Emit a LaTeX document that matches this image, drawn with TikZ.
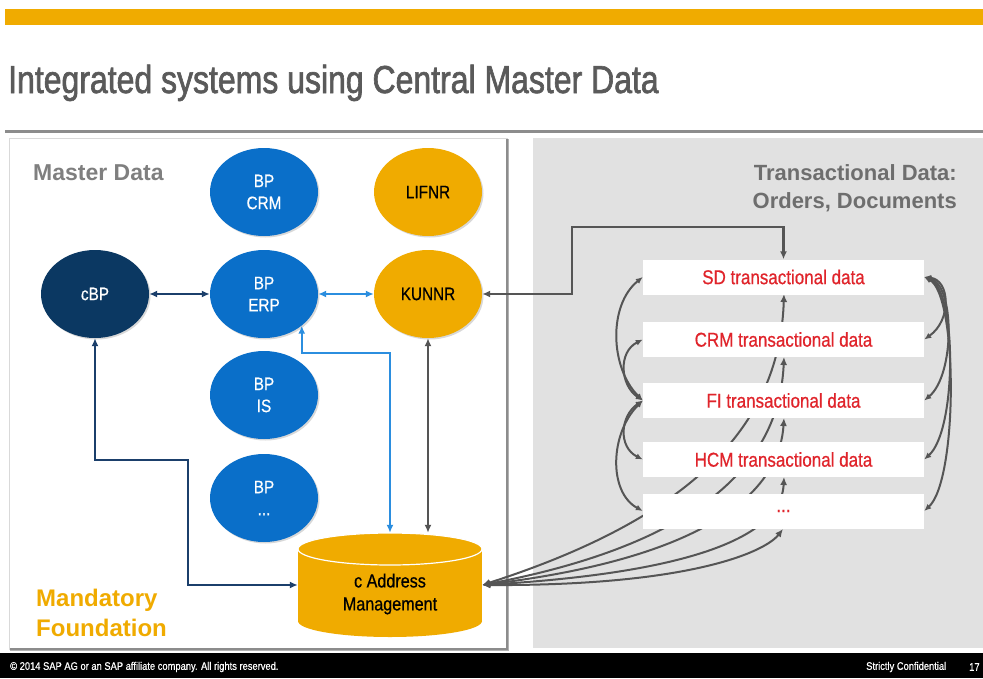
\documentclass[tikz,border=0pt]{standalone}
\usepackage{fontspec}
\setmainfont{Liberation Sans}
\newfontfamily\narrowfont[FakeStretch=0.85,FakeBold=0.6]{Liberation Sans}
\newfontfamily\titlefont[FakeStretch=0.82,FakeBold=1.6]{Liberation Sans}
\usetikzlibrary{arrows.meta,shapes.geometric,shadows}
\definecolor{sapgold}{HTML}{F0AB00}
\definecolor{bpblue}{HTML}{0A6FC9}
\definecolor{cbpnavy}{HTML}{0B3862}
\definecolor{navyline}{HTML}{1B3F6B}
\definecolor{lightblue}{HTML}{2B8EDF}
\definecolor{darkline}{HTML}{555555}
\definecolor{panelgray}{HTML}{E1E1E1}
\definecolor{tdred}{HTML}{E0242B}
\definecolor{titlegray}{HTML}{5A5A5A}
\definecolor{labelgray}{HTML}{7F7F7F}
\begin{document}
\begin{tikzpicture}[x=1pt,y=-1pt,
  bubble/.style={ellipse, minimum width=108pt, minimum height=88pt, inner sep=0pt, align=center,
    font=\narrowfont\fontsize{18}{22}\selectfont,
    drop shadow={shadow xshift=1.5pt, shadow yshift=-1.5pt, opacity=0.3}},
  tbox/.style={rectangle, fill=white, minimum width=281pt, minimum height=35pt, inner sep=0pt,
    text=tdred, font=\narrowfont\fontsize{20}{24}\selectfont},
  conn/.style={line width=2.4pt, >={Latex[length=8pt,width=7pt]}},
  navyconn/.style={conn, draw=navyline},
  blueconn/.style={conn, draw=lightblue},
  grayconn/.style={conn, draw=darkline},
  hubconn/.style={line width=2pt, draw=darkline, >={Latex[length=7pt,width=6pt]}},
  fanconn/.style={line width=2pt, draw=darkline, >={Latex[length=8pt,width=7pt]}},
  paneltitle/.style={inner sep=0pt, font=\bfseries\fontsize{22}{26}\selectfont, text=black!57}
]
\useasboundingbox (0,0) rectangle (983,678);
\fill[white] (0,0) rectangle (983,678);

% header
\fill[sapgold] (5,9) rectangle (983,25);
\node[anchor=base west, inner sep=0pt, font=\titlefont\fontsize{39}{39}\selectfont, text=titlegray] (title) at (8,93) {Integrated systems using Central Master Data};
\fill[black!45] (5,130) rectangle (983,133);

% panels
\fill[black!30] (10,139) rectangle (509,651);
\fill[white] (9,138) rectangle (507,649);
\draw[black!15, line width=0.8pt] (9,138) rectangle (507,649);
\draw[black!45, line width=1.4pt] (507,139) -- (507,649) -- (10,649);
\fill[panelgray] (533,138) rectangle (983,648);

% footer
\fill[black] (0,653) rectangle (983,678);
\node[anchor=west, inner sep=0pt, text=white, font=\narrowfont\fontsize{11}{12}\selectfont] (copy) at (10,667) {© 2014 SAP AG or an SAP affiliate company. All rights reserved.};
\node[anchor=west, inner sep=0pt, text=white, font=\narrowfont\fontsize{11}{12}\selectfont] (conf) at (866,667) {Strictly Confidential};
\node[anchor=west, inner sep=0pt, text=white, font=\narrowfont\fontsize{11}{12}\selectfont] (pageno) at (969,667) {17};

% panel titles
\node[anchor=base west, inner sep=0pt, font=\bfseries\fontsize{23}{26}\selectfont, text=labelgray] (md) at (33,180) {Master Data};
\node[anchor=base east, paneltitle] (td1) at (957,180) {Transactional Data:};
\node[anchor=base east, paneltitle] (td2) at (957,208) {Orders, Documents};
\node[anchor=base west, inner sep=0pt, font=\bfseries\fontsize{24}{26}\selectfont, text=sapgold] (mf1) at (36,606) {Mandatory};
\node[anchor=base west, inner sep=0pt, font=\bfseries\fontsize{24}{26}\selectfont, text=sapgold] (mf2) at (36,636) {Foundation};

% master data bubbles
\node[bubble, fill=bpblue, text=white] (crm) at (264,192) {BP\\CRM};
\node[bubble, fill=sapgold, text=black] (lifnr) at (428,192) {LIFNR};
\node[bubble, fill=cbpnavy, text=white] (cbp) at (95,294) {cBP};
\node[bubble, fill=bpblue, text=white] (erp) at (264,294) {BP\\ERP};
\node[bubble, fill=sapgold, text=black] (kunnr) at (428,294) {KUNNR};
\node[bubble, fill=bpblue, text=white] (is) at (264,395) {BP\\IS};
\node[bubble, fill=bpblue, text=white] (etc) at (264,498) {BP\\...};

% cylinder
\fill[sapgold] (298,549) rectangle (482,621);
\fill[sapgold] (390,621) ellipse[x radius=92pt, y radius=16pt];
\fill[sapgold] (390,549) ellipse[x radius=92pt, y radius=16pt];
\draw[white, line width=1.2pt] (390,549) ellipse[x radius=92pt, y radius=16pt];
\node[minimum width=184pt, minimum height=104pt, inner sep=0pt] (cyl) at (390,585) {};
\node[inner sep=0pt, align=center, font=\narrowfont\fontsize{19}{23}\selectfont, text=black] (cyllbl) at (390,594) {c Address\\Management};

% fan of connectors from cylinder to transactional boxes (drawn under boxes)
\coordinate (sdb) at (784,294);
\coordinate (crmb) at (784,357);
\coordinate (fib) at (784,418);
\coordinate (hcmb) at (784,477);
\coordinate (dotb) at (783,529);
\draw[fanconn,<->] (cyl.east) .. controls (700,515) and (780,420) .. (sdb);
\draw[fanconn,<->] (cyl.east) .. controls (720,540) and (780,450) .. (crmb);
\draw[fanconn,<->] (cyl.east) .. controls (730,555) and (780,480) .. (fib);
\draw[fanconn,<->] (cyl.east) .. controls (740,570) and (782,520) .. (hcmb);
\draw[fanconn,<->] (cyl.east) .. controls (690,586) and (765,552) .. (dotb);

% transactional boxes
\node[tbox] (sd) at (783.5,277) {SD transactional data};
\node[tbox] (crmt) at (783.5,339.5) {CRM transactional data};
\node[tbox] (fi) at (783.5,400.5) {FI transactional data};
\node[tbox] (hcm) at (783.5,459.5) {HCM transactional data};
\node[tbox] (dots) at (783.5,511) {...};

% master data connectors
\draw[navyconn,<->] (cbp.east) -- (erp.west);
\draw[blueconn,<->] (erp.east) -- (kunnr.west);
\coordinate (kbend) at (572,227);
\draw[grayconn,<->] (kunnr.east) -| (kbend) -| (sd.north);
\coordinate (bturn) at (390,353);
\draw[blueconn,<->] (erp.-40) |- (bturn) -- (bturn |- cyl.north);
\draw[grayconn,<->] (kunnr.south) -- (kunnr.south |- cyl.north);
\coordinate (nturn) at (188,460);
\draw[navyconn,<->] (cbp.south) |- (nturn) |- (cyl.west);

% left hub (FI)
\draw[hubconn,<->] (fi.west) .. controls (610,368) and (608,305) .. (sd.west);
\draw[hubconn,<->] (fi.west) .. controls (620,385) and (618,352) .. (crmt.west);
\draw[hubconn,<->] (fi.west) .. controls (620,416) and (618,447) .. (hcm.west);
\draw[hubconn,<->] (fi.west) .. controls (610,433) and (608,492) .. (dots.west);

% right hub (SD)
\draw[hubconn,<->] (sd.east) .. controls (950,280) and (952,320) .. (crmt.east);
\draw[hubconn,<->] (sd.east) .. controls (955,285) and (955,375) .. (fi.east);
\draw[hubconn,<->] (sd.east) .. controls (957,290) and (957,430) .. (hcm.east);
\draw[hubconn,<->] (sd.east) .. controls (958,295) and (958,480) .. (dots.east);
\end{tikzpicture}
\end{document}
